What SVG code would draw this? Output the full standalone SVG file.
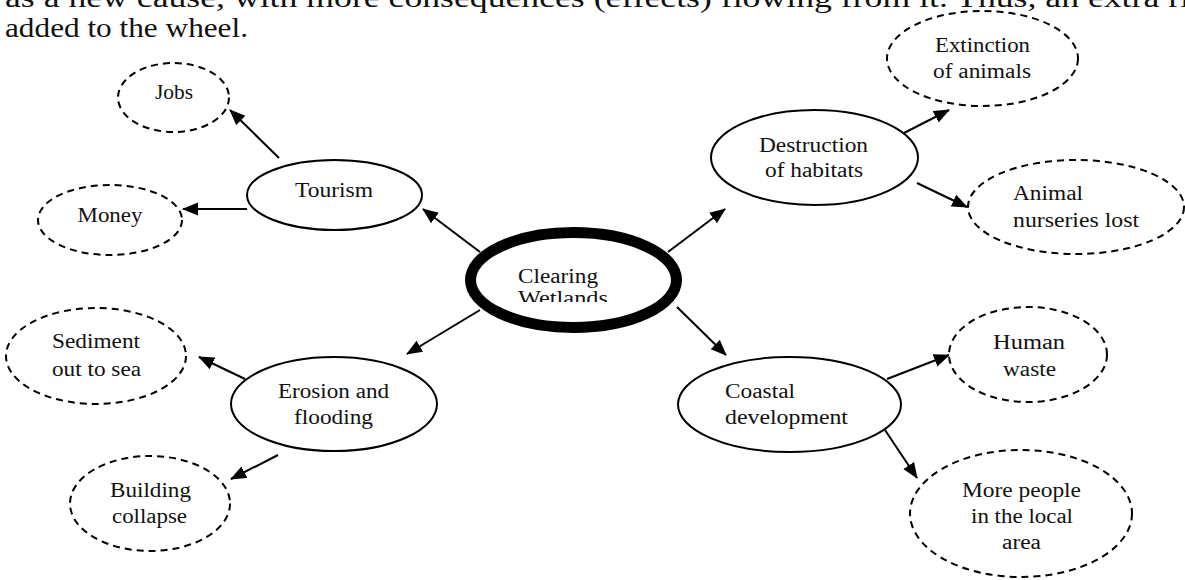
<svg xmlns="http://www.w3.org/2000/svg" width="1185" height="580" viewBox="0 0 1185 580">
<style>
text{font-family:"Liberation Serif","DejaVu Serif",serif;fill:#111;font-size:20px}
.top{font-size:28px}
.m{text-anchor:middle}
.solid{fill:#fff;stroke:#000;stroke-width:2}
.dash{fill:#fff;stroke:#000;stroke-width:2;stroke-dasharray:7 5}
.thick{fill:#fff;stroke:#000;stroke-width:11}
.con line{stroke:#000;stroke-width:2;marker-end:url(#ah)}
</style>
<defs>
<marker id="ah" markerUnits="userSpaceOnUse" markerWidth="16" markerHeight="14" viewBox="0 0 16 14" refX="15" refY="7" orient="auto">
<path d="M0,0.5 L16,7 L0,13.5 z" fill="#000"/>
</marker>
<clipPath id="cw"><rect x="480" y="240" width="200" height="62"/></clipPath>
</defs>
<rect width="1185" height="580" fill="#fff"/>
<g id="intro">
<text class="top" x="5" y="7" textLength="1185" lengthAdjust="spacingAndGlyphs">as a new cause, with more consequences (effects) flowing from it.  Thus, an extra ri</text>
<text class="top" x="5" y="37" textLength="243" lengthAdjust="spacingAndGlyphs">added to the wheel.</text>
</g>
<g class="con" id="connectors">
<line x1="480" y1="252" x2="423" y2="209"/>
<line x1="668" y1="252" x2="725" y2="209"/>
<line x1="480" y1="310" x2="407" y2="354"/>
<line x1="677" y1="307" x2="726" y2="355"/>
<line x1="279" y1="158" x2="230" y2="110"/>
<line x1="247" y1="209" x2="183" y2="209"/>
<line x1="904" y1="133" x2="949" y2="110"/>
<line x1="917" y1="183" x2="967" y2="207"/>
<line x1="245" y1="379" x2="199" y2="357"/>
<line x1="278" y1="455" x2="231" y2="479"/>
<line x1="887" y1="379" x2="949" y2="355"/>
<line x1="885" y1="430" x2="917" y2="478"/>
</g>
<g id="clearing">
<ellipse class="thick" cx="573.5" cy="280" rx="103" ry="47.5"/>
<text x="518" y="283" textLength="80" lengthAdjust="spacingAndGlyphs">Clearing</text>
<text x="518" y="305" textLength="90" lengthAdjust="spacingAndGlyphs" clip-path="url(#cw)">Wetlands</text>
</g>
<g id="tourism">
<ellipse class="solid" cx="334.5" cy="195" rx="87.5" ry="35"/>
<text class="m" x="334" y="197" textLength="78" lengthAdjust="spacingAndGlyphs">Tourism</text>
</g>
<g id="jobs">
<ellipse class="dash" cx="173.5" cy="97.5" rx="55.5" ry="34.5"/>
<text class="m" x="174" y="99" textLength="38" lengthAdjust="spacingAndGlyphs">Jobs</text>
</g>
<g id="money">
<ellipse class="dash" cx="110" cy="220" rx="72" ry="35"/>
<text class="m" x="110" y="222" textLength="65" lengthAdjust="spacingAndGlyphs">Money</text>
</g>
<g id="destruction">
<ellipse class="solid" cx="814.5" cy="157.5" rx="103.5" ry="47.5"/>
<text class="m" x="813.5" y="152" textLength="109" lengthAdjust="spacingAndGlyphs">Destruction</text>
<text class="m" x="814" y="177" textLength="98" lengthAdjust="spacingAndGlyphs">of habitats</text>
</g>
<g id="extinction">
<ellipse class="dash" cx="982.5" cy="58.5" rx="95.5" ry="47.5"/>
<text class="m" x="982.5" y="52" textLength="95" lengthAdjust="spacingAndGlyphs">Extinction</text>
<text class="m" x="982" y="78" textLength="98" lengthAdjust="spacingAndGlyphs">of animals</text>
</g>
<g id="nurseries">
<ellipse class="dash" cx="1076" cy="207" rx="108" ry="47"/>
<text x="1013" y="200" textLength="70" lengthAdjust="spacingAndGlyphs">Animal</text>
<text x="1013" y="227" textLength="126" lengthAdjust="spacingAndGlyphs">nurseries lost</text>
</g>
<g id="erosion">
<ellipse class="solid" cx="334" cy="404" rx="103" ry="47"/>
<text class="m" x="333.5" y="398" textLength="111" lengthAdjust="spacingAndGlyphs">Erosion and</text>
<text class="m" x="333.5" y="424" textLength="79" lengthAdjust="spacingAndGlyphs">flooding</text>
</g>
<g id="sediment">
<ellipse class="dash" cx="96" cy="356" rx="90" ry="48"/>
<text x="52" y="348" textLength="88" lengthAdjust="spacingAndGlyphs">Sediment</text>
<text x="52" y="376" textLength="89" lengthAdjust="spacingAndGlyphs">out to sea</text>
</g>
<g id="building">
<ellipse class="dash" cx="150" cy="503.5" rx="80" ry="47.5"/>
<text class="m" x="150.5" y="497" textLength="81" lengthAdjust="spacingAndGlyphs">Building</text>
<text class="m" x="149.5" y="523" textLength="75" lengthAdjust="spacingAndGlyphs">collapse</text>
</g>
<g id="coastal">
<ellipse class="solid" cx="789.5" cy="404.5" rx="111.5" ry="47.5"/>
<text x="725" y="398" textLength="70" lengthAdjust="spacingAndGlyphs">Coastal</text>
<text x="725" y="424" textLength="123" lengthAdjust="spacingAndGlyphs">development</text>
</g>
<g id="human">
<ellipse class="dash" cx="1028" cy="354.5" rx="79" ry="47.5"/>
<text class="m" x="1029" y="349" textLength="72" lengthAdjust="spacingAndGlyphs">Human</text>
<text class="m" x="1029.5" y="376" textLength="53" lengthAdjust="spacingAndGlyphs">waste</text>
</g>
<g id="people">
<ellipse class="dash" cx="1021" cy="513.5" rx="111" ry="63.5"/>
<text class="m" x="1021.5" y="497" textLength="119" lengthAdjust="spacingAndGlyphs">More people</text>
<text class="m" x="1022" y="523" textLength="102" lengthAdjust="spacingAndGlyphs">in the local</text>
<text class="m" x="1021.5" y="549" textLength="39" lengthAdjust="spacingAndGlyphs">area</text>
</g>
</svg>
